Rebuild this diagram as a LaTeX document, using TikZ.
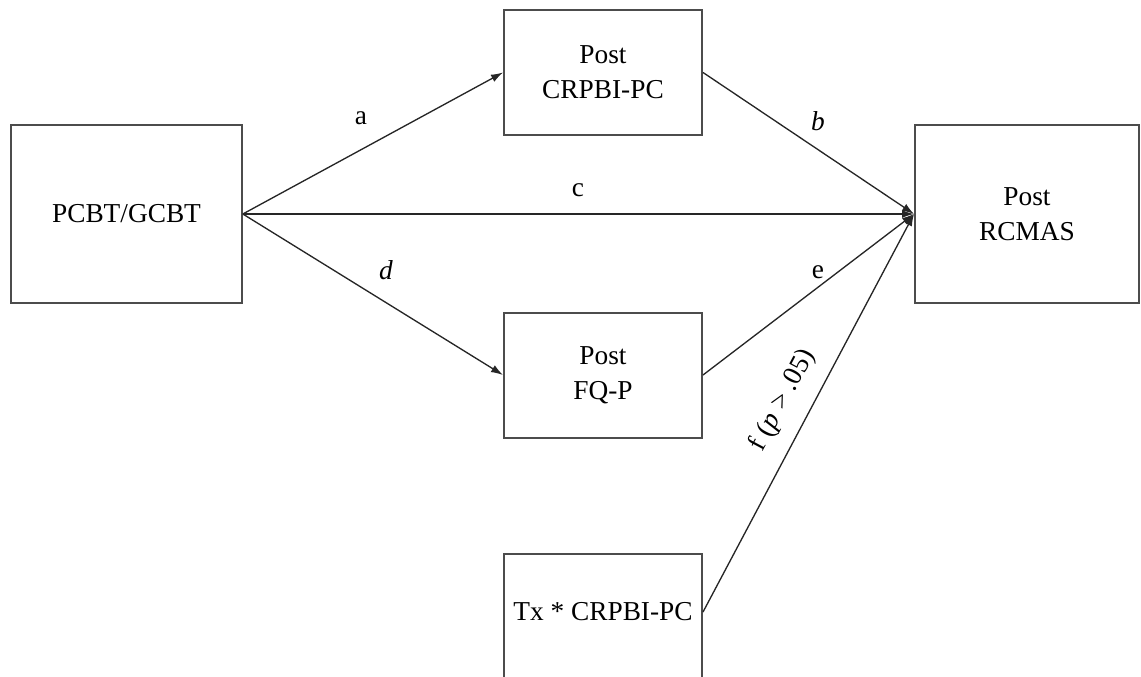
\documentclass[tikz,border=0pt]{standalone}
\usepackage{fontspec}
\setmainfont{Liberation Serif}
\usepackage{tikz}
\usetikzlibrary{arrows.meta}

\begin{document}
\begin{tikzpicture}[x=0.75pt,y=-0.75pt,
  varbox/.style={draw=black!70,line width=1.5pt,align=center,inner sep=0pt,
    font=\fontsize{20.5}{26}\selectfont},
  path/.style={draw=black!85,line width=1pt,-{Latex[length=9pt,width=6pt]}},
  lbl/.style={font=\fontsize{20.5}{26}\selectfont,inner sep=0pt}]
\useasboundingbox (0,0) rectangle (1141,677);
\node[varbox,minimum width=173pt,minimum height=133.5pt] (treat) at (126.5,214) {PCBT/GCBT};
\node[varbox,minimum width=148.5pt,minimum height=93.75pt] (crpbi) at (603,72.5) {Post\\CRPBI-PC};
\node[varbox,minimum width=148.5pt,minimum height=93.75pt] (fqp) at (603,375) {Post\\FQ-P};
\node[varbox,minimum width=168pt,minimum height=133.5pt] (rcmas) at (1027,214) {Post\\RCMAS};
\node[varbox,minimum width=148.5pt,minimum height=120pt,anchor=north] (tx) at (603,553) {};
\node[lbl] (txtext) at (603,612) {Tx * CRPBI-PC};
% paths into the mediators
\draw[path] (treat.east) -- (crpbi.west);
\draw[path] (treat.east) -- (fqp.west);
% paths into the outcome
\draw[path] (crpbi.east) -- (rcmas.west);
\draw[path] (treat.east) -- (rcmas.west);
\draw[path] (fqp.east) -- (rcmas.west);
\draw[path] (tx.east |- txtext) -- (rcmas.west);
\node[lbl] (la) at (361,118) {a};
\node[lbl] (lb) at (818,121) {\textit{b}};
\node[lbl] (lc) at (578,190) {c};
\node[lbl] (ld) at (386,270) {\textit{d}};
\node[lbl] (le) at (818,272) {e};
\node[lbl,rotate=62] (lf) at (783,400) {f (\textit{p} > .05)};
\end{tikzpicture}
\end{document}
